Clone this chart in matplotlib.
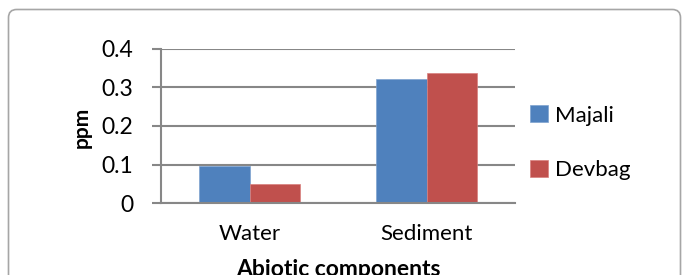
import matplotlib
matplotlib.use("Agg")
import matplotlib.pyplot as plt
import numpy as np
from matplotlib.patches import FancyBboxPatch

categories = ["Water", "Sediment"]
majali = [0.096, 0.321]
devbag = [0.050, 0.338]
series_names = ["Majali", "Devbag"]
y_ticks = [0, 0.1, 0.2, 0.3, 0.4]
y_tick_labels = ["0", "0.1", "0.2", "0.3", "0.4"]

plt.rcParams['font.family'] = ['Lato', 'DejaVu Sans']

W, H = 683, 275
fig = plt.figure(figsize=(W / 100, H / 100), dpi=100)

# rounded frame around the chart
frame = FancyBboxPatch((8.5 / W, -0.2), (672 / W), 1.2 - 9.5 / H,
                       boxstyle="round,pad=0,rounding_size=0.012",
                       transform=fig.transFigure, fill=False,
                       edgecolor="#a6a6a6", linewidth=1.2, mutation_aspect=W / H)
fig.patches.append(frame)

ax = fig.add_axes([161 / W, (H - 203) / H, 354 / W, 154 / H])

x = np.arange(len(categories))
w = 0.2857
ax.bar(x - w / 2, majali, w, color="#4F81BD", edgecolor="#7fa3d0", linewidth=0.5,
       label=series_names[0], zorder=3)
ax.bar(x + w / 2, devbag, w, color="#C0504D", edgecolor="#d8807e", linewidth=0.5,
       label=series_names[1], zorder=3)

ax.set_xlim(-0.5, 1.5)
ax.set_ylim(0, 0.4)
ax.set_yticks(y_ticks)
ax.set_yticklabels(y_tick_labels)
ax.set_xticks(x)
ax.set_xticklabels(categories)

grid_c = "#878787"
ax.yaxis.grid(True, color=grid_c, linewidth=1.5, zorder=0)
for s in ["top", "right"]:
    ax.spines[s].set_visible(False)
ax.spines["left"].set_color(grid_c)
ax.spines["left"].set_linewidth(1.5)
ax.spines["bottom"].set_color(grid_c)
ax.spines["bottom"].set_linewidth(1.5)
ax.spines["bottom"].set_zorder(4)

ax.tick_params(axis="y", length=6.5, width=1.5, color=grid_c, labelsize=16.5, pad=13.5)
ax.tick_params(axis="x", length=0, labelsize=16, pad=15)

ax.set_ylabel("ppm", fontsize=15, fontweight="bold")
ax.yaxis.set_label_coords(-0.195, 0.49)
ax.set_xlabel("Abiotic components", fontsize=16.5, fontweight="bold", labelpad=11)

ax.legend(loc="center left", bbox_to_anchor=(1.042, 0.39), frameon=False,
          fontsize=16, handlelength=0.8, handleheight=0.8, handletextpad=0.35,
          labelspacing=1.55, borderaxespad=0, borderpad=0)

fig.savefig("out.png", dpi=100)
